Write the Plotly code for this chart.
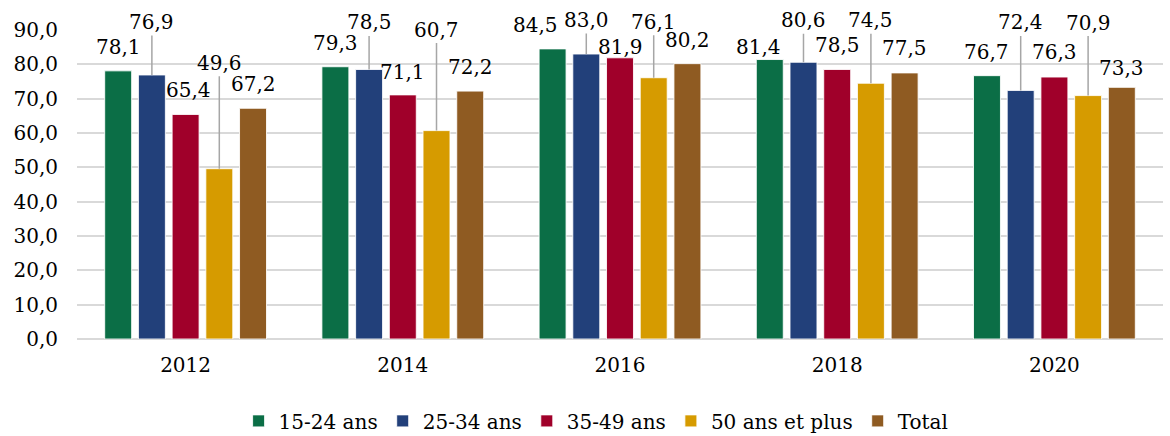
import plotly.graph_objects as go

years = ["2012", "2014", "2016", "2018", "2020"]
series_names = ["15-24 ans", "25-34 ans", "35-49 ans", "50 ans et plus", "Total"]
v_15_24 = [78.1, 79.3, 84.5, 81.4, 76.7]
v_25_34 = [76.9, 78.5, 83.0, 80.6, 72.4]
v_35_49 = [65.4, 71.1, 81.9, 78.5, 76.3]
v_50_plus = [49.6, 60.7, 76.1, 74.5, 70.9]
v_total = [67.2, 72.2, 80.2, 77.5, 73.3]
y_ticks = [0, 10, 20, 30, 40, 50, 60, 70, 80, 90]

all_values = [v_15_24, v_25_34, v_35_49, v_50_plus, v_total]
colors = ["#0B6E46", "#22407A", "#A0002A", "#D69B00", "#8F5B22"]

# label placement (style): pixel offset of label centre above bar top, x shift, leader line flag
label_dy = [
    [-24, -24, -24, -13, -24],
    [-53, -47, -34, -42, -68],
    [-24, -23, -11, -24, -25],
    [-106, -101, -56, -63, -73],
    [-24, -24, -24, -25, -19],
]
label_dx = [
    [0, 0, -17, -11, 0],
    [0, 0, 0, 0, 0],
    [3, 0, 0, 0, 0],
    [0, 0, 0, 0, 0],
    [0, 0, 0, 0, 0],
]
leader = [
    [False, False, False, False, False],
    [True, True, True, True, True],
    [False, False, False, False, False],
    [True, True, True, True, True],
    [False, False, False, False, False],
]

FONT = "DejaVu Serif"
FS = 20
bargap = 0.224
n = len(series_names)

fig = go.Figure()
for i, (name, vals, col) in enumerate(zip(series_names, all_values, colors)):
    fig.add_trace(go.Bar(
        x=years, y=vals, name=name,
        marker=dict(color=col, line=dict(color="rgba(255,255,255,0.85)", width=1)),
        hoverinfo="x+y+name",
    ))

annotations = []
slot = (1 - bargap) / n
for i, vals in enumerate(all_values):
    for j, v in enumerate(vals):
        xpos = j + (i - (n - 1) / 2) * slot
        txt = f"{v:.1f}".replace(".", ",")
        if leader[i][j]:
            annotations.append(dict(
                x=xpos, y=v, xref="x", yref="y", text=txt,
                showarrow=True, ax=label_dx[i][j], ay=label_dy[i][j],
                arrowhead=0, arrowwidth=1.5, arrowcolor="#A6A6A6",
                standoff=0, startstandoff=0,
                font=dict(family=FONT, size=FS, color="#000000"),
            ))
        else:
            annotations.append(dict(
                x=xpos, y=v, xref="x", yref="y", text=txt,
                showarrow=False, xshift=label_dx[i][j], yshift=-label_dy[i][j],
                font=dict(family=FONT, size=FS, color="#000000"),
            ))

fig.update_layout(
    width=1170, height=436,
    margin=dict(l=77, r=7, t=30, b=97, autoexpand=False),
    paper_bgcolor="white", plot_bgcolor="white",
    barmode="group", bargap=bargap, bargroupgap=0.2,
    font=dict(family=FONT, size=FS, color="#000000"),
    separators=", ",
    showlegend=True,
    legend=dict(orientation="h", x=0.478, xanchor="center", y=-0.265, yanchor="middle",
                font=dict(family=FONT, size=FS, color="#000000"),
                itemwidth=30, traceorder="normal"),
    annotations=annotations,
)
fig.update_yaxes(
    range=[0, 90], tickvals=y_ticks, tickformat=".1f",
    showgrid=True, gridcolor="#D9D9D9", gridwidth=1.5,
    zeroline=True, zerolinecolor="#D9D9D9", zerolinewidth=1.5,
    showline=False, ticks="", ticklabelstandoff=18, automargin=False,
    tickfont=dict(family=FONT, size=FS, color="#000000"),
    fixedrange=True,
)
fig.update_xaxes(
    type="category", showgrid=False, showline=False, ticks="",
    ticklabelstandoff=12, automargin=False,
    tickfont=dict(family=FONT, size=FS, color="#000000"),
    fixedrange=True,
)

fig.write_html("out.html", config={"displayModeBar": False},
               post_script="document.body.style.margin='0';document.body.style.overflow='hidden';")
